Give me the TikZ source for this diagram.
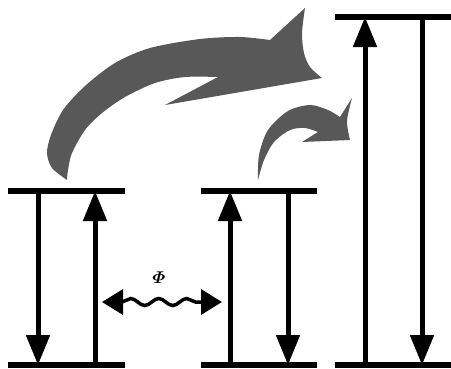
\documentclass[tikz,border=0pt]{standalone}
\usepackage{amsmath}
\usepackage{amssymb}
\usepackage{bm}
\usepackage{xcolor}
\usepackage{tikz}
\usetikzlibrary{arrows.meta}
\usetikzlibrary{decorations.pathmorphing}
\definecolor{swirlgray}{RGB}{88,88,88}
\def\lowlvl{365}  % ground levels
\def\midlvl{191}  % first excited levels
\def\toplvl{17}   % upper level

\begin{document}
\begin{tikzpicture}[x=1pt, y=-1pt,
    level/.style={line width=6pt},
    trans/.style={line width=5pt, -{Triangle[length=30pt,width=23pt]}},
    swirl/.style={fill=swirlgray, draw=none},
    wave/.style={line width=3.5pt, decorate,
      decoration={snake, amplitude=3.5pt, segment length=28pt, pre length=20pt, post length=20pt},
      {Triangle[length=21pt,width=25pt]}-{Triangle[length=21pt,width=25pt]}}]
		\useasboundingbox (0,0) rectangle (451,368);
		% levels
		\coordinate (lt1) at (8,\midlvl);   \coordinate (rt1) at (125,\midlvl);
		\coordinate (lb1) at (8,\lowlvl);   \coordinate (rb1) at (125,\lowlvl);
		\coordinate (lt2) at (201,\midlvl); \coordinate (rt2) at (317,\midlvl);
		\coordinate (lb2) at (201,\lowlvl); \coordinate (rb2) at (317,\lowlvl);
		\coordinate (lt3) at (335,\toplvl); \coordinate (rt3) at (451,\toplvl);
		\coordinate (lb3) at (335,\lowlvl); \coordinate (rb3) at (451,\lowlvl);
		\foreach \i in {1,2,3} {
			\draw[level] (lt\i) -- (rt\i);
			\draw[level] (lb\i) -- (rb\i);
		}
		% transitions
		\coordinate (d1u) at (38,\midlvl);  \coordinate (d1d) at (38,\lowlvl);
		\coordinate (u1u) at (95,\midlvl);  \coordinate (u1d) at (95,\lowlvl);
		\coordinate (u2u) at (230,\midlvl); \coordinate (u2d) at (230,\lowlvl);
		\coordinate (d2u) at (288,\midlvl); \coordinate (d2d) at (288,\lowlvl);
		\coordinate (u3u) at (365,\toplvl); \coordinate (u3d) at (365,\lowlvl);
		\coordinate (d3u) at (422,\toplvl); \coordinate (d3d) at (422,\lowlvl);
		\draw[trans] (d1u) -- (d1d);
		\draw[trans] (u1d) -- (u1u);
		\draw[trans] (u2d) -- (u2u);
		\draw[trans] (d2u) -- (d2d);
		\draw[trans] (u3d) -- (u3u);
		\draw[trans] (d3u) -- (d3d);
		% coupling
		\coordinate (phiL) at (102,302);
		\coordinate (phiR) at (222,302);
		\draw[wave] (phiL) -- (phiR);
		\node[scale=1.7] (phi) at (159,278) {$\bm{\varPhi}$};
		% transfer arrows
		\fill[swirl] plot[smooth] coordinates {(67,180) (52,168) (47,153) (51,135) (63,110) (85,86) (115,63) (150,48) (200,39) (240,37) (270,40)}
			-- (305,8)
			-- plot[smooth] coordinates {(305,8) (302,33) (304,53) (310,67) (322,78)}
			-- (165,105) -- (218,77)
			-- plot[smooth] coordinates {(218,77) (185,77) (155,83) (125,97) (102,113) (85,130) (72,153) (68,170) (67,180)} -- cycle;
		\fill[swirl] plot[smooth] coordinates {(258,180) (259,155) (268,130) (288,111) (310,105) (328,110) (340,117)}
			-- (352,98)
			-- plot[smooth] coordinates {(352,98) (347,121) (350,140)}
			-- (302,142) -- (318,132)
			-- plot[smooth] coordinates {(318,132) (305,128) (290,130) (274,142) (264,160) (258,180)} -- cycle;
\end{tikzpicture}
\end{document}
